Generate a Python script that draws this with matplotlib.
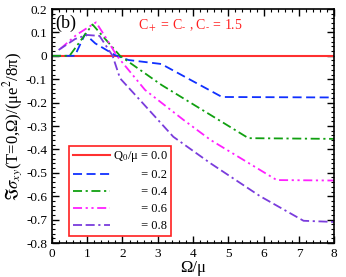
import numpy as np
import matplotlib
matplotlib.use("Agg")
import matplotlib.pyplot as plt
from matplotlib.ticker import MultipleLocator

plt.rcParams['font.family'] = ['Liberation Serif', 'DejaVu Serif']
plt.rcParams['mathtext.fontset'] = 'stix'

# curves, Q0/mu = 0.0 ... 0.8
x00 = [0.0, 8.0]
y00 = [0.0, 0.0]

x02 = [0.0, 0.65, 0.94, 1.23, 1.79, 2.17, 3.1, 4.82, 8.0]
y02 = [0.0, 0.0, 0.093, 0.053, 0.003, -0.018, -0.035, -0.176, -0.178]

x04 = [0.0, 0.5, 1.15, 1.93, 3.11, 3.49, 5.57, 8.0]
y04 = [0.0, 0.0, 0.134, 0.0, -0.125, -0.16, -0.352, -0.355]

x06 = [0.24, 0.7, 1.25, 1.51, 1.84, 2.64, 3.73, 4.5, 6.37, 8.0]
y06 = [0.03, 0.09, 0.143, 0.082, 0.0, -0.146, -0.274, -0.36, -0.531, -0.533]

x08 = [0.19, 0.66, 0.99, 1.35, 1.72, 1.93, 2.5, 3.44, 4.5, 5.9, 7.13, 8.0]
y08 = [0.025, 0.072, 0.089, 0.085, 0.0, -0.096, -0.19, -0.346, -0.46, -0.60, -0.705, -0.71]

labels = ["Q$_0$/μ = 0.0",
          "         = 0.2",
          "         = 0.4",
          "         = 0.6",
          "         = 0.8"]

fig = plt.figure(figsize=(3.46, 2.77), dpi=100)
ax = fig.add_axes([0.150, 0.1227, 0.816, 0.8448])

ax.plot(x00, y00, color='#ff3030', lw=1.5, label=labels[0])
ax.plot(x02, y02, color='#1030ff', lw=1.3, ls=(0, (5, 2.5)), label=labels[1])
ax.plot(x04, y04, color='#10a010', lw=1.3, ls=(0, (5, 2, 1.2, 2)), label=labels[2])
ax.plot(x06, y06, color='#ff20ff', lw=1.3, ls=(0, (5, 2, 1.2, 2, 1.2, 2)), label=labels[3])
ax.plot(x08, y08, color='#7a3cdc', lw=1.3, ls=(0, (5, 2, 5, 2, 1.2, 2)), label=labels[4])

ax.set_xlim(0, 8)
ax.set_ylim(-0.8, 0.2)
ax.xaxis.set_major_locator(MultipleLocator(1))
ax.xaxis.set_minor_locator(MultipleLocator(0.2))
ax.yaxis.set_minor_locator(MultipleLocator(0.02))
ax.set_yticks(np.arange(-0.8, 0.21, 0.1))
ax.set_yticklabels(['-0.8', '-0.7', '-0.6', '-0.5', '-0.4', '-0.3', '-0.2', '-0.1', '0', '0.1', '0.2'])
ax.tick_params(which='both', direction='in', top=True, right=True, labelsize=9.5)
ax.tick_params(which='major', length=5, width=1)
ax.tick_params(which='minor', length=2.5, width=0.8)
for s in ax.spines.values():
    s.set_linewidth(1.2)

ax.set_xlabel("Ω/μ", fontsize=12, labelpad=0)
ax.set_ylabel(r"$\Im\sigma_{xy}$(T=0,Ω)/(μe$^2$/8π)", fontsize=12, labelpad=1)

ax.text(0.1, 0.175, "(b)", fontsize=13, va='top')
ax.text(3.92, 0.128, "C$_+$ = C$_{\u2010}$ , C$_{\u2010}$ = 1.5", color='#ff2020',
        fontsize=10, ha='center', va='center')

leg = ax.legend(loc='lower left', bbox_to_anchor=(0.199, 0.148),
                bbox_transform=fig.transFigure, fontsize=9,
                handlelength=3.0, handletextpad=0.2, labelspacing=0.4,
                borderpad=0.3, borderaxespad=0, fancybox=False, framealpha=1)
leg.get_frame().set_edgecolor('#ff2020')
leg.get_frame().set_linewidth(1.2)

fig.savefig("out.png", dpi=100)
